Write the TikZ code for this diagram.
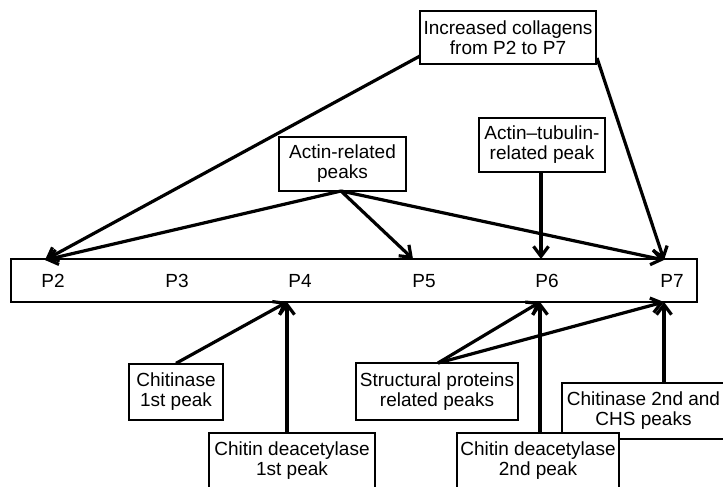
\documentclass[tikz,border=0pt]{standalone}
\usepackage{fontspec}
\setmainfont{Liberation Sans}
\usetikzlibrary{arrows.meta}
\begin{document}
\begin{tikzpicture}[x=1pt,y=-1pt,
  box/.style={draw=black, fill=white, line width=1.3pt, inner sep=0pt, align=center,
    font=\fontsize{19}{20}\selectfont},
  lbl/.style={inner sep=0pt, font=\fontsize{19}{20}\selectfont},
  arr/.style={line width=3.2pt, -{Straight Barb[length=10pt,width=15pt]}}]
\useasboundingbox (0,0) rectangle (723,487);
\clip (0,0) rectangle (723,487);
\fill[white] (0,0) rectangle (723,487);
% top boxes
\node[box, minimum width=176pt, minimum height=53pt] (coll) at (508,37.5) {Increased collagens\\from P2 to P7};
\node[box, minimum width=127pt, minimum height=54pt] (actin) at (342.5,164) {Actin-related\\peaks};
\node[box, minimum width=126pt, minimum height=54pt] (tub) at (542,145) {Actin--tubulin-\\related peak};
% bar
\node[box, minimum width=686pt, minimum height=43pt] (bar) at (354,280.5) {};
\node[lbl] (P2) at (53,281) {P2};
\node[lbl] (P3) at (177,281) {P3};
\node[lbl] (P4) at (300,281) {P4};
\node[lbl] (P5) at (424,281) {P5};
\node[lbl] (P6) at (547,281) {P6};
\node[lbl] (P7) at (672,281) {P7};
% bottom boxes
\node[box, minimum width=94pt, minimum height=56pt] (chi1) at (176,392) {Chitinase\\1st peak};
\node[box, minimum width=166pt, minimum height=56pt] (cda1) at (292,461) {Chitin deacetylase\\1st peak};
\node[box, minimum width=162pt, minimum height=57pt] (str) at (437,391.5) {Structural proteins\\related peaks};
\node[box, minimum width=163pt, minimum height=56pt] (chi2) at (643.5,411) {Chitinase 2nd and\\CHS peaks};
\node[box, minimum width=162pt, minimum height=56pt] (cda2) at (538,461) {Chitin deacetylase\\2nd peak};
% connector end points
\coordinate (collL) at (420,56);
\coordinate (collR) at (597,58);
\coordinate (actB) at (341,191);
\coordinate (p2t) at (45,260);
\coordinate (p5t) at (413,259);
\coordinate (p6t) at (541,259);
\coordinate (p7t) at (664,260);
\coordinate (p4b) at (287,302);
\coordinate (p6b) at (540,302);
\coordinate (p7b) at (664,302);
\coordinate (strT) at (438,363);
% arrows
\draw[arr] (collL) -- (p2t);
\draw[arr] (collR) -- (p7t);
\draw[arr] (actB) -- (p2t);
\draw[arr] (actB) -- (p5t);
\draw[arr] (actB) -- (p7t);
\draw[arr] (tub.south -| p6t) -- (p6t);
\draw[arr] (chi1.north) -- (p4b);
\draw[arr] (cda1.north -| p4b) -- (p4b);
\draw[arr] (strT) -- (p6b);
\draw[arr] (strT) -- (p7b);
\draw[arr] (cda2.north -| p6b) -- (p6b);
\draw[arr] (chi2.north -| p7b) -- (p7b);
\end{tikzpicture}
\end{document}
